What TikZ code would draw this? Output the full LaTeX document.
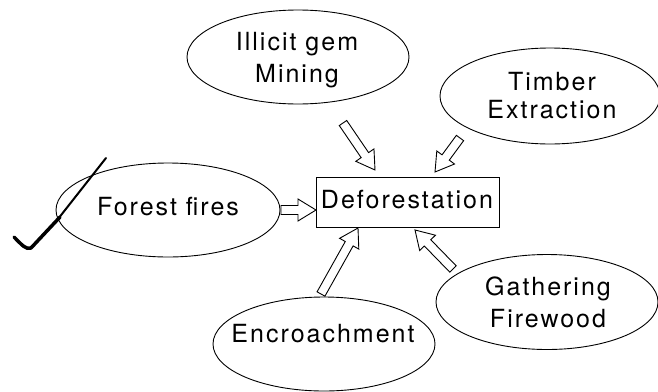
\documentclass[tikz,border=0pt]{standalone}
\usepackage{fontspec}
\setmainfont{TeX Gyre Heros}[LetterSpace=8]
\usetikzlibrary{shapes.geometric,calc}

\newcommand{\blockarrow}[2]{%
  \coordinate (ba-c) at ($(#2)!18pt!(#1)$);
  \path[arrowline] ($(#1)!4.5pt!90:(#2)$) -- ($(ba-c)!4.5pt!90:(#2)$) -- ($(ba-c)!11pt!90:(#2)$) -- (#2)
    -- ($(ba-c)!11pt!-90:(#2)$) -- ($(ba-c)!4.5pt!-90:(#2)$) -- ($(#1)!4.5pt!-90:(#2)$) -- cycle;
}

\tikzset{
  bubble/.style={draw, ellipse, line width=0.9pt, minimum width=222pt, minimum height=94pt, inner sep=0pt},
  txt/.style={font=\fontsize{25}{31}\selectfont, align=center, inner sep=0pt, anchor=base},
  box/.style={draw, line width=1pt, minimum width=183pt, minimum height=50pt, inner sep=0pt},
  arrowline/.style={draw, line width=0.9pt, line join=miter, fill=white}
}

\begin{document}
\begin{tikzpicture}[x=1pt, y=-1pt]
  \useasboundingbox (0,0) rectangle (658,391);

  % ellipses
  \node[bubble] (mining) at (298,57) {};
  \node[bubble, minimum width=220pt, minimum height=96pt] (timber) at (550,96) {};
  \node[bubble, minimum width=224pt] (fire) at (168,210) {};
  \node[bubble, minimum height=95pt] (wood) at (547,302) {};
  \node[bubble, minimum height=94pt] (enc) at (324,344) {};

  % centre box
  \node[box] (defo) at (407.5,202) {};

  % texts (base anchor = baseline of the last line)
  \node[txt, font=\fontsize{25}{32}\selectfont] (miningtxt) at (297,82) {Illicit gem\\Mining};
  \node[txt, font=\fontsize{25}{28}\selectfont] (timbertxt) at (552,118) {Timber\\Extraction};
  \node[txt] (firetxt) at (168,215) {Forest fires};
  \node[txt, font=\fontsize{25}{32}\selectfont] (woodtxt) at (548,327) {Gathering\\Firewood};
  \node[txt] (enctxt) at (323,342) {Encroachment};
  \node[txt] (defotxt) at (407,208) {Deforestation};

  % arrow end points
  \coordinate (a1) at (343,123); \coordinate (b1) at (375,170);
  \coordinate (a2) at (460,138); \coordinate (b2) at (435,172);
  \coordinate (a3) at (281,210); \coordinate (b3) at (316,210);
  \coordinate (a4) at (321,294); \coordinate (b4) at (358,228);
  \coordinate (a5) at (453,269); \coordinate (b5) at (415,230);

  \blockarrow{a1}{b1}
  \blockarrow{a2}{b2}
  \blockarrow{a3}{b3}
  \blockarrow{a4}{b4}
  \blockarrow{a5}{b5}

  % hand-drawn tick
  \draw[line width=3.5pt, line cap=round, line join=round]
    (14,237) .. controls (22,245) and (26,250) .. (31,248) -- (60,217);
  \draw[line width=2pt, line cap=round] (58,219) -- (106,158);
\end{tikzpicture}
\end{document}
